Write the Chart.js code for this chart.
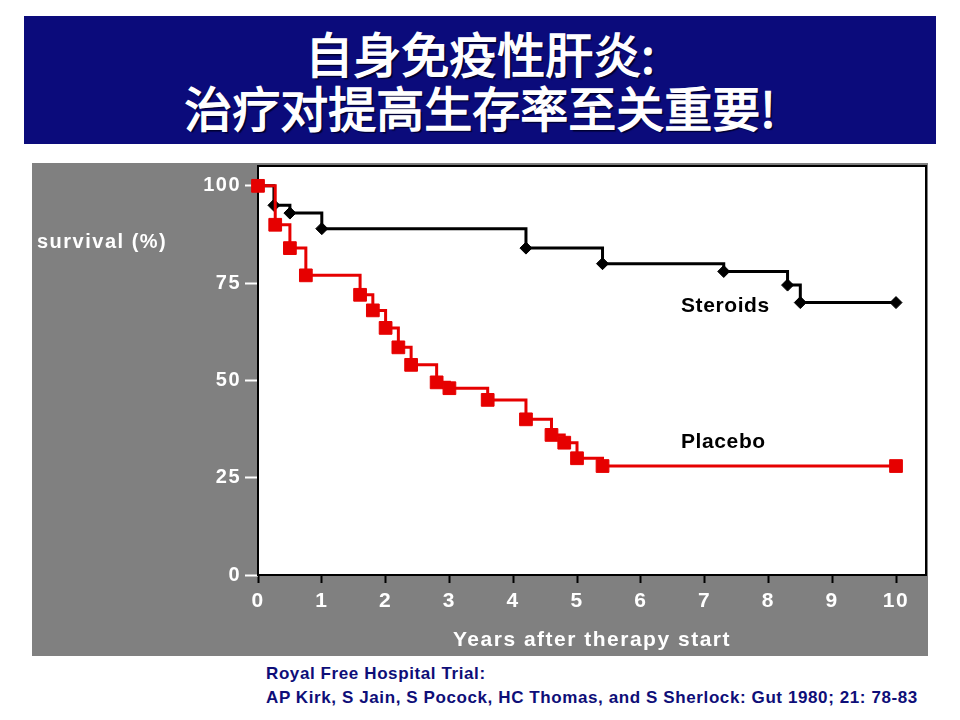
<!DOCTYPE html>
<html>
<head>
<meta charset="utf-8">
<script src="https://cdn.jsdelivr.net/npm/chart.js@4/dist/chart.umd.min.js"></script>
<style>
  html, body { margin: 0; padding: 0; background: #fff; }
  body { width: 960px; height: 720px; position: relative; overflow: hidden; font-family: "Liberation Sans", Arial, sans-serif; }
  #title {
    position: absolute; left: 24px; top: 16px; width: 912px; height: 128px;
    background: #0b0b7b; color: #fff; text-align: center;
    font-family: "Noto Sans CJK SC", sans-serif; font-weight: normal; font-size: 48px;
    line-height: 54px; box-sizing: border-box; padding-top: 9px;
    -webkit-text-stroke: 1.4px #fff;
    text-shadow: 2px 2px 1px #000030;
  }
  #chartBox { position: absolute; left: 32px; top: 163px; width: 896px; height: 493px; }
  .lbl { position: absolute; font-weight: bold; white-space: nowrap; line-height: 24px; }
  #ylab { left: 37px; top: 229px; color: #fff; font-size: 20px; letter-spacing: 1.5px; }
  #steroids { left: 681px; top: 293px; color: #000; font-size: 21px; letter-spacing: 0.6px; }
  #placebo { left: 681px; top: 429px; color: #000; font-size: 21px; letter-spacing: 0.6px; }
  #foot { position: absolute; left: 266px; top: 662px; color: #0e0e78; font-weight: bold; font-size: 17px; line-height: 24px; letter-spacing: 0.6px; white-space: nowrap; }
</style>
</head>
<body>
<div id="title">自身免疫性肝炎:<br>治疗对提高生存率至关重要!</div>
<div id="chartBox"><canvas id="km" width="896" height="493"></canvas></div>
<div class="lbl" id="ylab">survival (%)</div>
<div class="lbl" id="steroids">Steroids</div>
<div class="lbl" id="placebo">Placebo</div>
<div id="foot">Royal Free Hospital Trial:<br>AP Kirk, S Jain, S Pocock, HC Thomas, and S Sherlock: Gut 1980; 21: 78-83</div>

<script>
// Kaplan-Meier survival values
const steroidsYears = [0, 0.25, 0.5, 1.0, 4.2, 5.4, 7.3, 8.3, 8.5, 10];
const steroidsSurvival = [100, 95, 93, 89, 84, 80, 78, 74.5, 70, 70];

const placeboYears = [0, 0.27, 0.5, 0.75, 1.6, 1.8, 2.0, 2.2, 2.4, 2.8, 3.0, 3.6, 4.2, 4.6, 4.8, 5.0, 5.4, 10];
const placeboSurvival = [100, 90, 84, 77, 72, 68, 63.5, 58.5, 54, 49.5, 48, 45, 40, 36, 34, 30, 28, 28];

const xTicks = [0, 1, 2, 3, 4, 5, 6, 7, 8, 9, 10];
const yTicks = [0, 25, 50, 75, 100];

const toPoints = (xs, ys) => xs.map((x, i) => ({ x: x, y: ys[i] }));

// gray panel, white plot area and black frame
const panelPlugin = {
  id: 'panel',
  beforeInit(chart) { chart.ctx.letterSpacing = '1.5px'; },
  beforeDraw(chart) {
    const { ctx, chartArea: a } = chart;
    ctx.letterSpacing = '1.5px';
    ctx.save();
    ctx.fillStyle = '#808080';
    ctx.fillRect(0, 0, chart.width, chart.height);
    ctx.fillStyle = '#ffffff';
    ctx.fillRect(a.left, a.top, a.right - a.left, a.bottom - a.top);
    ctx.restore();
  },
  beforeDatasetsDraw(chart) {
    const { ctx, chartArea: a } = chart;
    ctx.save();
    ctx.strokeStyle = '#000';
    ctx.lineWidth = 2;
    ctx.strokeRect(a.left, a.top, a.right - a.left, a.bottom - a.top);
    ctx.restore();
  }
};

new Chart(document.getElementById('km'), {
  type: 'line',
  data: {
    datasets: [
      {
        label: 'Placebo',
        data: toPoints(placeboYears, placeboSurvival),
        stepped: true,
        borderColor: '#e60000',
        borderWidth: 3,
        pointStyle: 'rect',
        pointRadius: 9,
        pointBackgroundColor: '#e60000',
        pointBorderColor: '#e60000',
        pointBorderWidth: 1,
        clip: false
      },
      {
        label: 'Steroids',
        data: toPoints(steroidsYears, steroidsSurvival),
        stepped: true,
        borderColor: '#000000',
        borderWidth: 3,
        pointStyle: 'rectRot',
        pointRadius: (c) => c.dataIndex === 0 ? 0 : 6,
        pointBackgroundColor: '#000000',
        pointBorderColor: '#000000',
        pointBorderWidth: 1,
        clip: false
      }
    ]
  },
  options: {
    responsive: false,
    animation: false,
    layout: { autoPadding: false, padding: { top: 3, right: 2, left: 0, bottom: 0 } },
    plugins: { legend: { display: false }, tooltip: { enabled: false } },
    scales: {
      x: {
        type: 'linear',
        min: 0,
        max: 10.47,
        afterFit(scale) {
          scale.height = 81;
          scale.paddingLeft = 0;
          scale.paddingRight = 0;
        },
        afterBuildTicks(scale) { scale.ticks = xTicks.map(v => ({ value: v })); },
        border: { display: false },
        grid: { drawOnChartArea: false, drawTicks: true, tickLength: 8, tickColor: '#000', tickWidth: 2 },
        ticks: { color: '#fff', padding: 6, maxRotation: 0, autoSkip: false, font: { family: '"Liberation Sans", Arial', size: 21, weight: 'bold' } },
        title: {
          display: true,
          text: 'Years after therapy start',
          color: '#fff',
          font: { family: '"Liberation Sans", Arial', size: 21, weight: 'bold' },
          padding: { top: 0, bottom: 3 }
        }
      },
      y: {
        min: 0,
        max: 105.1,
        afterFit(scale) {
          scale.width = 226;
          scale.paddingTop = 0;
          scale.paddingBottom = 0;
        },
        afterBuildTicks(scale) { scale.ticks = yTicks.map(v => ({ value: v })); },
        border: { display: false },
        grid: { drawOnChartArea: false, drawTicks: true, tickLength: 13, tickColor: '#fff', tickWidth: 2 },
        ticks: { color: '#fff', padding: 4, font: { family: '"Liberation Sans", Arial', size: 20, weight: 'bold' } }
      }
    }
  },
  plugins: [panelPlugin]
});
</script>
</body>
</html>
